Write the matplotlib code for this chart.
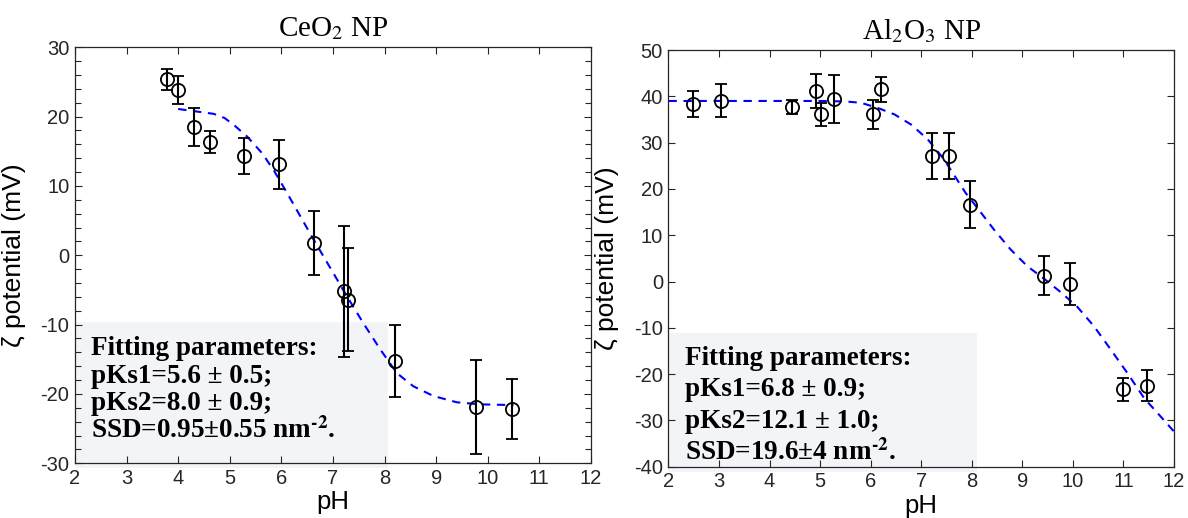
import numpy as np
import matplotlib
matplotlib.use('Agg')
import matplotlib.pyplot as plt
from matplotlib.patches import Rectangle

#Data
#CeO2 nanoparticles
ce_ph = [3.78, 4.00, 4.30, 4.61, 5.28, 5.96, 6.63, 7.21, 7.30, 8.20, 9.78, 10.48]
ce_zeta = [25.4, 23.8, 18.5, 16.3, 14.3, 13.1, 1.8, -5.2, -6.4, -15.3, -21.9, -22.2]
ce_err = [1.5, 2.0, 2.7, 1.6, 2.6, 3.5, 4.6, 9.4, 7.4, 5.2, 6.8, 4.3]
ce_fit_ph = [4.0, 4.3, 4.69, 4.9, 5.08, 5.34, 5.63, 5.85, 6.11, 6.37, 6.63, 7.01, 7.27,
             7.59, 7.92, 8.24, 8.56, 8.95, 9.40, 9.85, 10.5]
ce_fit_zeta = [21.1, 20.8, 20.4, 19.8, 18.8, 17.1, 14.7, 12.3, 9.0, 5.6, 2.2, -2.6, -5.9,
               -9.8, -13.6, -17.0, -18.9, -20.3, -21.2, -21.5, -21.6]

#Al2O3 nanoparticles
al_ph = [2.49, 3.04, 4.44, 4.91, 5.02, 5.28, 6.04, 6.20, 7.22, 7.54, 7.96, 9.42, 9.94, 10.99, 11.47]
al_zeta = [38.3, 39.1, 37.7, 41.1, 36.1, 39.5, 36.1, 41.5, 27.1, 27.1, 16.6, 1.3, -0.5, -23.3, -22.5]
al_err = [2.8, 3.6, 1.6, 3.7, 2.5, 5.2, 3.2, 2.7, 4.9, 4.9, 5.1, 4.3, 4.6, 2.4, 3.4]
al_fit_ph = [2.0, 3.0, 4.0, 5.0, 5.5, 5.81, 6.14, 6.47, 6.80, 7.13, 7.45, 7.88, 8.11, 8.44,
             8.77, 9.10, 9.43, 9.76, 10.09, 10.42, 10.75, 11.08, 11.41, 11.74, 12.0]
al_fit_zeta = [39.0, 39.0, 39.0, 39.0, 38.9, 38.6, 37.5, 36.1, 33.9, 30.7, 26.4, 19.1, 15.9, 11.2,
               6.9, 3.3, 0.6, -2.3, -5.5, -9.7, -14.7, -19.8, -25.2, -29.2, -32.4]

#hyphen (U+2010) in the superscript so mathtext does not turn it into a wide minus
ce_text = ['Fitting parameters:', 'pKs1=5.6 \u00b1 0.5;', 'pKs2=8.0 \u00b1 0.9;',
           'SSD=0.95\u00b10.55 nm$^{\\mathbf{\u20102}}$.']
al_text = ['Fitting parameters:', 'pKs1=6.8 \u00b1 0.9;', 'pKs2=12.1 \u00b1 1.0;',
           'SSD=19.6\u00b14 nm$^{\\mathbf{\u20102}}$.']

plt.rcParams['font.family'] = ['Liberation Sans', 'DejaVu Sans']
plt.rcParams['mathtext.fontset'] = 'stix'
plt.rcParams['axes.unicode_minus'] = False
axis_col = '#262626'

fig = plt.figure(figsize=(11.88, 5.18), dpi=100)
ax1 = fig.add_axes([0.0631, 0.1056, 0.4343, 0.8031])
ax2 = fig.add_axes([0.5627, 0.0990, 0.4255, 0.8044])


def draw_panel(ax, ph, zeta, err, fit_ph, fit_zeta, title, lines, box_top, box_right, y_lines, ylim):
    #text box in the lower left corner
    ax.add_patch(Rectangle((0, -0.012), box_right, box_top + 0.012, transform=ax.transAxes,
                           facecolor='#f3f4f8', edgecolor='none', zorder=0, clip_on=False))
    ax.plot(fit_ph, fit_zeta, '--', color='#0000ff', lw=1.5, dashes=(4, 3.2), zorder=2)
    ax.errorbar(ph, zeta, yerr=err, fmt='o', mfc='none', mec='black', ms=9.5, mew=1.3,
                ecolor='black', elinewidth=1.5, capsize=4, capthick=1.5, zorder=3)
    for txt, yy in zip(lines, y_lines):
        ax.text(0.032, yy, txt, transform=ax.transAxes, fontsize=19.5, fontweight='bold',
                family='Liberation Serif', va='baseline', ha='left', zorder=4)
    ax.set_xlim(2, 12)
    ax.set_ylim(*ylim)
    ax.set_xticks(range(2, 13))
    ax.set_title(title, family='Liberation Serif', fontsize=21, pad=8)
    ax.set_xlabel('pH', fontsize=18.5)
    ax.set_ylabel('\u03b6 potential (mV)', fontsize=19)
    ax.xaxis.set_label_coords(0.5, -0.065)
    ax.tick_params(which='both', direction='in', top=True, right=True, labelsize=14.5,
                   colors=axis_col, labelcolor=axis_col, width=0.8, pad=4)
    ax.tick_params(which='major', length=5)
    ax.tick_params(which='minor', length=4)
    for s in ax.spines.values():
        s.set_color(axis_col)
        s.set_linewidth(0.9)


draw_panel(ax1, ce_ph, ce_zeta, ce_err, ce_fit_ph, ce_fit_zeta, 'CeO$_2$ NP', ce_text,
           0.340, 0.6066, [0.2603, 0.1938, 0.1281, 0.0615], (-30, 30))
ax1.set_yticks(range(-30, 31, 10))
ax1.set_yticks(np.arange(-30, 31, 2), minor=True)
ax1.yaxis.set_label_coords(-0.095, 0.5)

draw_panel(ax2, al_ph, al_zeta, al_err, al_fit_ph, al_fit_zeta, 'Al$_2$O$_3$ NP', al_text,
           0.3216, 0.6097, [0.244, 0.1696, 0.092, 0.0161], (-40, 50))
ax2.set_yticks(range(-40, 51, 10))
ax2.yaxis.set_label_coords(-0.097, 0.5)

plt.savefig('out.png', dpi=100)
